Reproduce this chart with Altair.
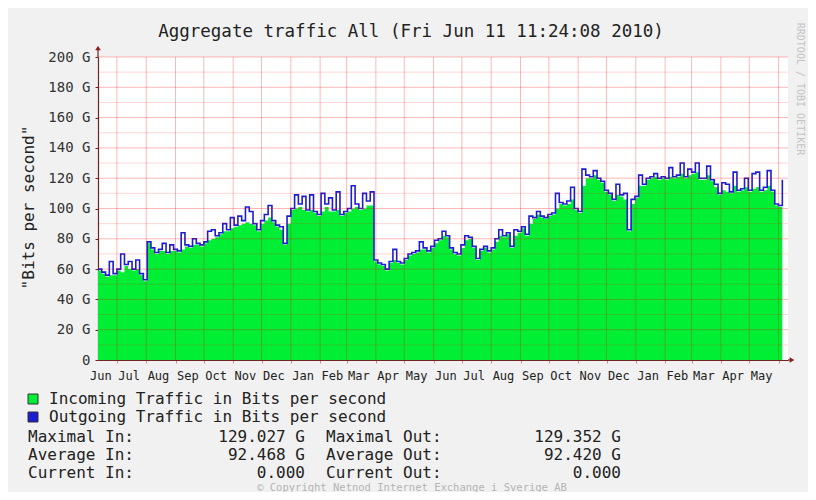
import altair as alt
import pandas as pd

# ---------------- data ----------------
START = pd.Timestamp("2008-06-11")
END = pd.Timestamp("2010-06-11")
STEP_DAYS = 4

# Incoming traffic (green area), Gbit/s, one value every 4 days from 11 Jun 2008
in_g = [59, 57, 55, 56, 56, 59, 58, 62, 60, 59, 60, 56, 52,
        77, 73, 70, 72, 72, 70, 72, 72, 71, 73, 75, 74, 76, 76, 75, 77, 79, 80, 81, 83,
        85, 85, 87, 88, 89, 90, 91, 90, 89, 85, 90, 92, 94, 91, 88, 86, 76, 90, 99, 100,
        101, 99, 98, 99, 97, 95, 98, 101, 98, 98, 99, 95, 97, 98, 100, 101, 99, 100, 102, 102,
        65, 63, 62, 59, 64, 66, 64, 63, 66, 69, 70, 71, 73, 73, 71, 74, 77, 79, 82,
        81, 73, 70, 69, 74, 79, 80, 74, 66, 72, 74, 71, 73, 78, 82, 81, 83, 74, 82, 84,
        87, 82, 90, 93, 96, 94, 93, 95, 96, 100, 103, 102, 103, 106, 99, 97, 115, 120, 120, 122,
        119, 117, 111, 109, 105, 109, 108, 106, 85, 103, 107, 115, 115, 119, 120, 121, 119, 120, 119, 121,
        120, 121, 123, 120, 122, 123, 124, 119, 119, 122, 118, 114, 109, 112, 111, 110, 115, 111, 112, 114,
        111, 113, 114, 111, 112, 115, 111, 102, 101, 115]

# Outgoing traffic (blue line), Gbit/s, same days
out_g = [60, 58, 56, 65, 57, 60, 70, 63, 65, 60, 66, 57, 53,
         78, 74, 71, 73, 77, 71, 76, 73, 72, 84, 76, 75, 80, 77, 76, 78, 85, 86, 82, 84,
         90, 86, 94, 89, 95, 92, 101, 98, 90, 86, 92, 96, 102, 92, 89, 88, 77, 95, 100, 109,
         103, 108, 99, 109, 98, 96, 110, 103, 107, 99, 111, 96, 98, 100, 115, 103, 100, 110, 105, 111,
         66, 64, 63, 60, 65, 73, 65, 64, 67, 70, 71, 72, 78, 74, 72, 75, 79, 80, 85,
         82, 74, 71, 70, 76, 82, 81, 75, 67, 73, 75, 72, 74, 80, 86, 82, 84, 75, 86, 85,
         88, 83, 95, 94, 98, 95, 94, 96, 97, 110, 104, 103, 105, 114, 100, 98, 126, 122, 121, 125,
         120, 118, 112, 110, 106, 116, 109, 110, 86, 106, 108, 122, 116, 120, 121, 123, 120, 121, 120, 127,
         121, 122, 130, 121, 126, 124, 130, 120, 120, 128, 119, 116, 110, 117, 116, 111, 124, 112, 113, 120,
         112, 123, 124, 112, 114, 125, 112, 103, 102, 119]

y_ticks = [0, 20, 40, 60, 80, 100, 120, 140, 160, 180, 200]
y_minor = [10, 30, 50, 70, 90, 110, 130, 150, 170, 190]

title_text = "Aggregate traffic All (Fri Jun 11 11:24:08 2010)"
y_title = '"Bits per second"'
legend_labels = ["Incoming Traffic in Bits per second", "Outgoing Traffic in Bits per second"]
stat_labels_in = ["Maximal In:", "Average In:", "Current In:"]
stat_values_in = ["129.027 G", "92.468 G", "0.000\u00a0\u00a0"]
stat_labels_out = ["Maximal Out:", "Average Out:", "Current Out:"]
stat_values_out = ["129.352 G", "92.420 G", "0.000\u00a0\u00a0"]
copyright_text = "\u00a9 Copyright Netnod Internet Exchange i Sverige AB"
side_text = "RRDTOOL / TOBI OETIKER"

# ---------------- tables ----------------
total_days = (END - START).days
traffic = pd.DataFrame({
    "day": [i * STEP_DAYS for i in range(len(in_g))],
    "in": in_g,
    "out": out_g,
})
month_starts = pd.date_range("2008-07-01", "2010-06-01", freq="MS")
grid_df = pd.DataFrame({"day": [(d - START).days for d in month_starts]})
label_dates = pd.date_range("2008-06-01", "2010-05-01", freq="MS") + pd.Timedelta(days=13)
label_df = pd.DataFrame({"day": [(d - START).days for d in label_dates],
                         "label": [d.strftime("%b") for d in label_dates]})
major_df = pd.DataFrame({"v": y_ticks[1:]})
minor_df = pd.DataFrame({"v": y_minor})

# ---------------- style ----------------
MONO = "DejaVu Sans Mono"
GREEN = "#00ef35"
BLUE = "#1c1cd2"
AXIS = "#6e2424"
GRID = "#ff0000"
W, H = 690, 303

xs = alt.Scale(domain=[0, total_days], nice=False, zero=False)
ys = alt.Scale(domain=[0, 200], nice=False)

x_axis = alt.Axis(values=grid_df["day"].tolist(), labels=False, tickSize=3,
                  tickColor="#d88", domainColor=AXIS, domainWidth=1.2, grid=False, title=None)
y_axis = alt.Axis(values=y_ticks,
                  labelExpr="datum.value == 0 ? '0' : datum.value + ' G'",
                  labelFont=MONO, labelFontSize=14, labelColor="#333", labelPadding=5,
                  tickSize=3, tickColor=AXIS, domainColor=AXIS, domainWidth=1.2, grid=False,
                  title=y_title, titleFont=MONO, titleFontSize=16, titleFontWeight="normal",
                  titleColor="#222", titleX=-70, titleY=150, titleAngle=270,
                  titleAlign="center", titleBaseline="middle")

area = alt.Chart(traffic).mark_area(interpolate="step-after", color=GREEN, opacity=1).encode(
    x=alt.X("day:Q", scale=xs, axis=x_axis),
    y=alt.Y("in:Q", scale=ys, axis=y_axis),
)
line = alt.Chart(traffic).mark_line(interpolate="step-after", color=BLUE, strokeWidth=1.6).encode(
    x=alt.X("day:Q", scale=xs, axis=x_axis),
    y=alt.Y("out:Q", scale=ys, axis=y_axis),
)
minor = alt.Chart(minor_df).mark_rule(color=GRID, opacity=0.16, strokeWidth=1).encode(
    y=alt.Y("v:Q", scale=ys, axis=y_axis))
major = alt.Chart(major_df).mark_rule(color=GRID, opacity=0.28, strokeWidth=1).encode(
    y=alt.Y("v:Q", scale=ys, axis=y_axis))
vgrid = alt.Chart(grid_df).mark_rule(color=GRID, opacity=0.28, strokeWidth=1).encode(
    x=alt.X("day:Q", scale=xs, axis=x_axis))
months = alt.Chart(label_df).mark_text(font=MONO, fontSize=12, color="#222", baseline="middle").encode(
    x=alt.X("day:Q", scale=xs, axis=x_axis), y=alt.value(H + 16), text="label:N")


def txt(s, x, y, **kw):
    return alt.Chart(pd.DataFrame({"t": [s]})).mark_text(font=MONO, baseline="middle", **kw).encode(
        text="t:N", x=alt.value(x), y=alt.value(y))


one = pd.DataFrame({"k": [0]})
layers = [area, line, minor, major, vgrid, months]

# axis extensions and arrows
layers.append(alt.Chart(one).mark_rule(color=AXIS, strokeWidth=1.2).encode(
    x=alt.value(0), y=alt.value(-7), y2=alt.value(0)))
layers.append(alt.Chart(one).mark_rule(color=AXIS, strokeWidth=1.2).encode(
    x=alt.value(W), x2=alt.value(W + 3), y=alt.value(H)))
layers.append(alt.Chart(one).mark_point(shape="triangle-up", filled=True, color="#8a1f1f", size=30, opacity=1).encode(
    x=alt.value(0), y=alt.value(-9)))
layers.append(alt.Chart(one).mark_point(shape="triangle-right", filled=True, color="#8a1f1f", size=30, opacity=1).encode(
    x=alt.value(W + 4), y=alt.value(H)))

# title and side text
layers.append(txt(title_text, 313, -25, fontSize=17.5, color="#222", align="center"))
layers.append(txt(side_text, 702, 32, fontSize=10, color="#c4c4c4", align="center", angle=90))

# legend
for i, (lab, col) in enumerate(zip(legend_labels, [GREEN, BLUE])):
    yy = 342 + 18 * i
    layers.append(alt.Chart(one).mark_square(size=100, fill=col, stroke="#333", strokeWidth=1, opacity=1).encode(
        x=alt.value(-65), y=alt.value(yy)))
    layers.append(txt(lab, -49, yy, fontSize=16, color="#222", align="left"))

# statistics
for i in range(3):
    yy = 380 + 18 * i
    layers.append(txt(stat_labels_in[i], -70, yy, fontSize=16, color="#222", align="left"))
    layers.append(txt(stat_values_in[i], 207, yy, fontSize=16, color="#222", align="right"))
    layers.append(txt(stat_labels_out[i], 228, yy, fontSize=16, color="#222", align="left"))
    layers.append(txt(stat_values_out[i], 523, yy, fontSize=16, color="#222", align="right"))

layers.append(txt(copyright_text, 314, 431, fontSize=10.5, color="#b4b4b4", align="center"))

chart = alt.layer(*layers).properties(
    width=W, height=H,
    autosize=alt.AutoSizeParams(type="none"),
    padding={"left": 90, "top": 49, "right": 20, "bottom": 132},
    background="#f1f1f1",
).configure_view(fill="white", stroke=None)

chart.save("out.html", embed_options={"renderer": "svg", "actions": False})
